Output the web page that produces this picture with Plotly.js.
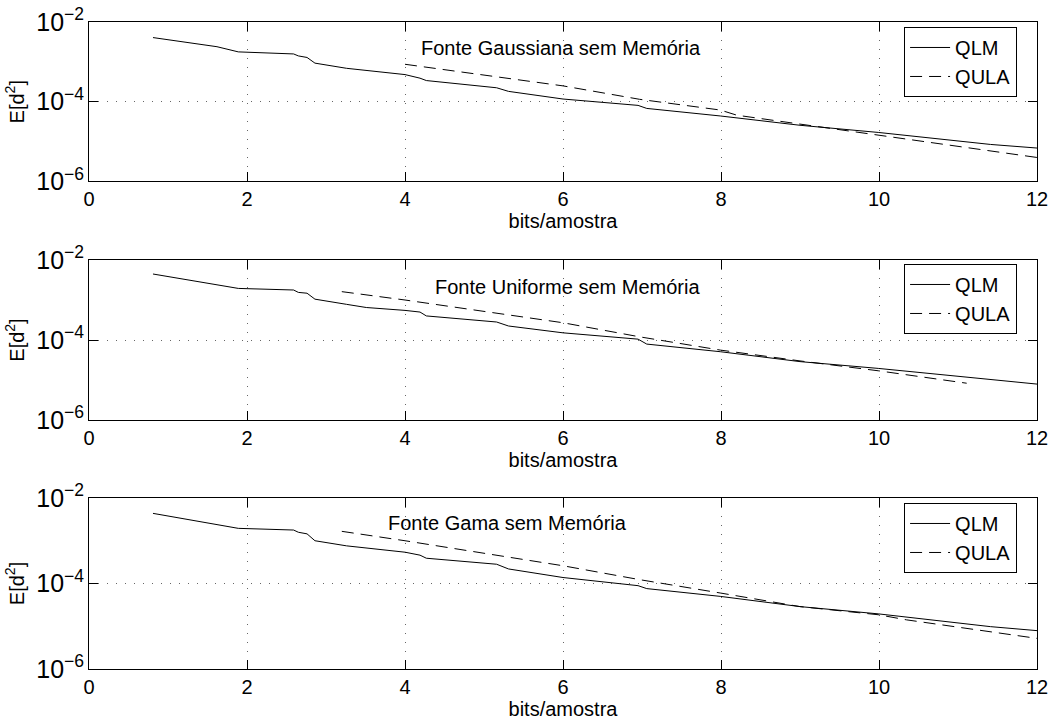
<!DOCTYPE html>
<html>
<head>
<meta charset="utf-8">
<script src="https://cdn.plot.ly/plotly-3.0.1.min.js"></script>
<style>
  html, body { margin: 0; padding: 0; background: #fff; }
  #chart { width: 1056px; height: 727px; }
</style>
</head>
<body>
<div id="chart"></div>
<script>
// Distortion vs. rate for three memoryless sources (QLM vs QULA quantizers)

// Gaussian source
const gaussQlmBits = [0.81, 1.03, 1.62, 1.89, 2.59, 2.65, 2.76, 2.86, 3.26, 4.00, 4.19, 4.27, 5.16, 5.31, 6.00, 6.95, 7.06, 7.99, 9.00, 9.99, 11.41, 12.00];
const gaussQlmErr  = [4.07e-3, 3.55e-3, 2.40e-3, 1.78e-3, 1.58e-3, 1.41e-3, 1.29e-3, 9.3e-4, 6.9e-4, 4.8e-4, 3.9e-4, 3.4e-4, 2.24e-4, 1.82e-4, 1.17e-4, 8.1e-5, 6.8e-5, 4.4e-5, 2.57e-5, 1.70e-5, 8.5e-6, 6.9e-6];
const gaussQulaBits = [4.00, 6.00, 6.97, 7.99, 8.20, 9.00, 9.99, 12.00];
const gaussQulaErr  = [8.7e-4, 2.5e-4, 1.15e-4, 6.2e-5, 4.6e-5, 2.75e-5, 1.45e-5, 4.0e-6];

// Uniform source
const unifQlmBits = [0.81, 1.89, 2.59, 2.65, 2.76, 2.86, 3.26, 3.51, 4.00, 4.19, 4.27, 5.16, 5.31, 6.00, 6.95, 7.06, 7.99, 9.00, 9.99, 11.41, 12.00];
const unifQlmErr  = [4.47e-3, 1.95e-3, 1.78e-3, 1.55e-3, 1.48e-3, 1.05e-3, 7.8e-4, 6.5e-4, 5.5e-4, 5.0e-4, 4.0e-4, 2.82e-4, 2.24e-4, 1.51e-4, 1.05e-4, 7.9e-5, 5.1e-5, 2.88e-5, 1.95e-5, 1.0e-5, 7.9e-6];
const unifQulaBits = [3.20, 4.00, 6.00, 6.97, 7.99, 9.00, 9.99, 11.11];
const unifQulaErr  = [1.62e-3, 1.0e-3, 2.7e-4, 1.2e-4, 5.6e-5, 3.0e-5, 1.7e-5, 8.3e-6];

// Gamma source
const gamaQlmBits = [0.81, 1.89, 2.59, 2.65, 2.76, 2.86, 3.26, 4.00, 4.19, 4.27, 5.16, 5.31, 6.00, 6.95, 7.06, 7.99, 9.00, 9.99, 11.41, 12.00];
const gamaQlmErr  = [4.37e-3, 1.95e-3, 1.78e-3, 1.58e-3, 1.45e-3, 1.0e-3, 7.6e-4, 5.4e-4, 4.6e-4, 3.9e-4, 2.82e-4, 2.19e-4, 1.38e-4, 8.9e-5, 7.6e-5, 5.0e-5, 2.88e-5, 1.95e-5, 9.8e-6, 7.9e-6];
const gamaQulaBits = [3.20, 4.00, 6.00, 6.97, 7.99, 9.00, 9.99, 10.35, 12.00];
const gamaQulaErr  = [1.66e-3, 1.0e-3, 2.6e-4, 1.23e-4, 6.0e-5, 2.88e-5, 1.86e-5, 1.41e-5, 5.2e-6];

const seriesNames = ['QLM', 'QULA'];
const panelTitles = ['Fonte Gaussiana sem Memória', 'Fonte Uniforme sem Memória', 'Fonte Gama sem Memória'];
const xTitle = 'bits/amostra';
const yTitle = 'E[d<sup>2</sup>]';

const FONT = 'Liberation Sans, Arial, Helvetica, sans-serif';
const FS = 20;

const panels = [
  { qlm: [gaussQlmBits, gaussQlmErr], qula: [gaussQulaBits, gaussQulaErr], note: [5.98, -2.65] },
  { qlm: [unifQlmBits, unifQlmErr],   qula: [unifQulaBits, unifQulaErr],   note: [6.06, -2.67] },
  { qlm: [gamaQlmBits, gamaQlmErr],   qula: [gamaQulaBits, gamaQulaErr],   note: [5.30, -2.585] }
];

const domains = [[0.7535, 1.0], [0.3849, 0.6321], [0.0, 0.2643]];
const legendTops = [0.9923, 0.626, 0.2566];

const traces = [];
const layout = {
  width: 1056,
  height: 727,
  margin: { l: 89, r: 19, t: 22, b: 58 },
  paper_bgcolor: '#ffffff',
  plot_bgcolor: '#ffffff',
  font: { family: FONT, size: FS, color: '#000' },
  showlegend: true,
  annotations: []
};

panels.forEach((p, i) => {
  const k = i === 0 ? '' : String(i + 1);
  const xa = 'x' + k, ya = 'y' + k;
  const legendId = 'legend' + k;

  traces.push({
    x: p.qlm[0], y: p.qlm[1], xaxis: xa, yaxis: ya,
    type: 'scatter', mode: 'lines', name: seriesNames[0], legend: legendId,
    line: { color: '#000', width: 1 }
  });
  traces.push({
    x: p.qula[0], y: p.qula[1], xaxis: xa, yaxis: ya,
    type: 'scatter', mode: 'lines', name: seriesNames[1], legend: legendId,
    line: { color: '#000', width: 1, dash: '12px,7px' }
  });

  layout['xaxis' + k] = {
    domain: [0, 1],
    anchor: ya,
    range: [0, 12],
    tick0: 0, dtick: 2,
    ticks: 'inside', ticklen: 9, tickwidth: 1, tickcolor: '#000',
    showline: true, linecolor: '#000', linewidth: 1, mirror: 'allticks',
    showgrid: true, gridcolor: '#666', gridwidth: 1, griddash: '1px,8px',
    zeroline: false,
    tickfont: { family: FONT, size: FS, color: '#000' },
    title: { text: xTitle, font: { family: FONT, size: FS, color: '#000' }, standoff: 4 }
  };
  layout['yaxis' + k] = {
    domain: domains[i],
    anchor: xa,
    type: 'log',
    range: [-6, -2],
    dtick: 2,
    exponentformat: 'power',
    ticks: 'inside', ticklen: 9, tickwidth: 1, tickcolor: '#000',
    showline: true, linecolor: '#000', linewidth: 1, mirror: 'allticks',
    showgrid: true, gridcolor: '#666', gridwidth: 1, griddash: '1px,8px',
    zeroline: false,
    tickfont: { family: FONT, size: FS, color: '#000' },
    title: { text: yTitle, font: { family: FONT, size: FS, color: '#000' }, standoff: 6 }
  };
  layout[legendId] = {
    x: 0.979, xanchor: 'right',
    y: legendTops[i], yanchor: 'top',
    xref: 'paper', yref: 'paper',
    bgcolor: '#ffffff', bordercolor: '#000', borderwidth: 1,
    font: { family: FONT, size: FS, color: '#000' },
    itemwidth: 40
  };
  layout.annotations.push({
    xref: xa, yref: ya,
    x: p.note[0], y: p.note[1],
    text: panelTitles[i],
    showarrow: false,
    xanchor: 'center', yanchor: 'middle',
    font: { family: FONT, size: FS, color: '#000' }
  });
});

Plotly.newPlot('chart', traces, layout, { displayModeBar: false, staticPlot: true });
</script>
</body>
</html>
